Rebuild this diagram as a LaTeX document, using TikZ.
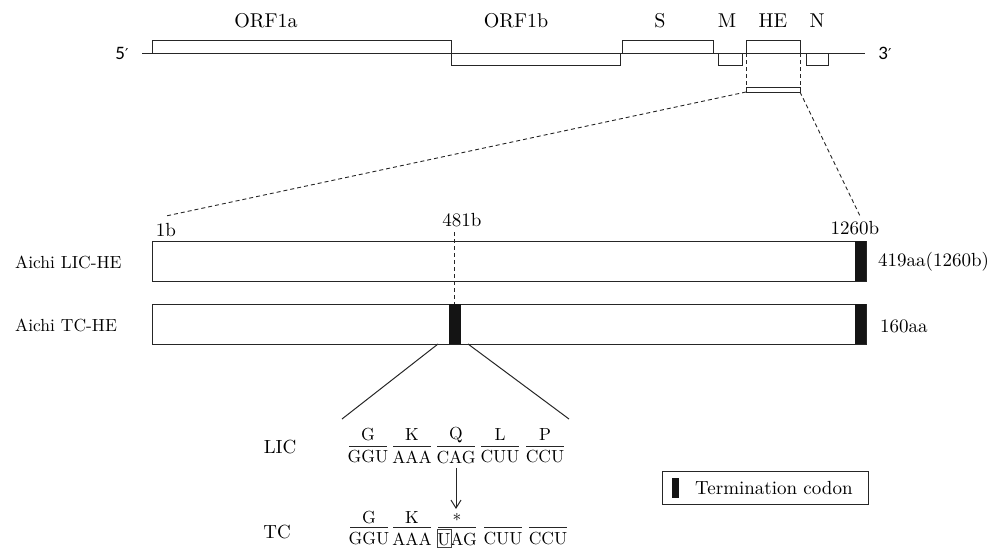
\documentclass[tikz,border=0pt]{standalone}
\usepackage{fontspec}
\setmainfont{lmroman10-regular}[Extension=.otf]
\newfontfamily\primefont{Carlito}
\newfontfamily\symfont{DejaVu Sans}
\usetikzlibrary{arrows.meta}
\tikzset{
  ln/.style={line width=1pt, draw=black!85},
  dsh/.style={line width=0.9pt, draw=black!85, dash pattern=on 4pt off 3pt},
  orf/.style={line width=1pt, draw=black!85, fill=white},
  lbl/.style={inner sep=0pt, font=\fontsize{19}{22}\selectfont},
  side/.style={inner sep=0pt, font=\fontsize{17.5}{21}\selectfont},
  cod/.style={inner sep=0pt, font=\fontsize{17.5}{20}\selectfont},
  big/.style={inner sep=0pt, font=\fontsize{20}{23}\selectfont},
  prime/.style={inner sep=0pt, font=\primefont\fontsize{19}{22}\selectfont},
  term/.style={fill=black!92, draw=none},
  bar/.style={line width=0.9pt, draw=black!85},
}
\begin{document}
\begin{tikzpicture}[x=1pt,y=-1pt]
\useasboundingbox (0,0) rectangle (1003,549);
% genome line
\coordinate (g0) at (142,53);
\coordinate (g1) at (865,53);
\draw[ln] (g0) -- (g1);
\node[prime] (five) at (122,53) {5{\symfont\fontsize{15}{18}\selectfont ′}};
\node[prime] (three) at (885,53) {3{\symfont\fontsize{15}{18}\selectfont ′}};
% ORFs
\draw[orf] (152,40) rectangle (451,53);
\draw[orf] (451,53) rectangle (620,65);
\draw[orf] (622,40) rectangle (713,53);
\draw[orf] (718,53) rectangle (742,65);
\draw[orf] (746,40) rectangle (800,53);
\draw[orf] (806,53) rectangle (828,65);
\node[big] (orf1a) at (266,21) {ORF1a};
\node[big] (orf1b) at (516,21) {ORF1b};
\node[big] (s) at (660,21) {S};
\node[big] (m) at (727,21) {M};
\node[big] (he) at (773,21) {HE};
\node[big] (n) at (817,21) {N};
% HE zoom
\coordinate (heL) at (746,53);
\coordinate (heR) at (800,53);
\coordinate (hbL) at (746,87);
\coordinate (hbR) at (800,87);
\draw[dsh] (heL) -- (hbL);
\draw[dsh] (heR) -- (hbR);
\draw[orf] (746,87) rectangle (800,92);
\coordinate (hbL2) at (746,92);
\coordinate (hbR2) at (800,92);
\coordinate (zl) at (166,216);
\coordinate (zr) at (860,216);
\draw[dsh] (hbL2) -- (zl);
\draw[dsh] (hbR2) -- (zr);
% HE bars
\draw[orf] (152,241) rectangle (866,281);
\draw[orf] (152,304) rectangle (866,344);
\fill[term] (855,241) rectangle (866,281);
\fill[term] (855,304) rectangle (866,344);
\fill[term] (449,304) rectangle (461,344);
\node[side, anchor=west] (lic) at (15,262) {Aichi LIC-HE};
\node[side, anchor=west] (tc) at (15,325) {Aichi TC-HE};
\node[lbl] (b1) at (166,230) {1b};
\node[lbl] (b481) at (462,220) {481b};
\node[lbl] (b1260) at (855,228) {1260b};
\node[lbl, anchor=west] (aa419) at (878,262) {419aa(1260b)};
\node[lbl, anchor=west] (aa160) at (880,326) {160aa};
\coordinate (d481a) at (454,232);
\coordinate (d481b) at (454,304);
\draw[dsh] (d481a) -- (d481b);
% expansion lines
\coordinate (eL) at (438,344);
\coordinate (eR) at (468,344);
\coordinate (eL2) at (342,419);
\coordinate (eR2) at (569,419);
\draw[ln] (eL) -- (eL2);
\draw[ln] (eR) -- (eR2);
% codons
\node[lbl] (licl) at (280,447) {LIC};
\node[lbl] (tcl) at (277,532) {TC};
\foreach \cx/\aa/\cod [count=\i] in {368/G/GGU, 412/K/AAA, 456/Q/CAG, 500/L/CUU, 545/P/CCU}{
  \node[cod] (la\i) at (\cx,435) {\aa};
  \node[cod] (lc\i) at (\cx,457) {\cod};
  \draw[bar] (\cx-19,446) -- (\cx+19,446);
}
\foreach \cx/\aa/\cod [count=\i] in {369/G/GGU, 412/K/AAA, 503/{}/CUU, 548/{}/CCU}{
  \node[cod] (ta\i) at (\cx,518) {\aa};
  \node[cod] (tc\i) at (\cx,539) {\cod};
  \draw[bar] (\cx-19,527) -- (\cx+19,527);
}
\node[cod] (tstar) at (457,520) {*};
\node[cod] (tcq) at (457,539) {UAG};
\draw[bar] (438,527) -- (476,527);
\draw[line width=0.9pt, draw=black!75] (437.5,529) rectangle (451,547);
\coordinate (arrS) at (456,468);
\coordinate (arrE) at (456,509);
\draw[ln, -{Straight Barb[length=8pt,width=10pt]}] (arrS) -- (arrE);
% legend
\draw[line width=1pt, draw=black!85] (662,471) rectangle (868,504);
\fill[term] (672,478) rectangle (679,498);
\node[lbl, anchor=west] (leg) at (695,488) {Termination codon};
\end{tikzpicture}
\end{document}
